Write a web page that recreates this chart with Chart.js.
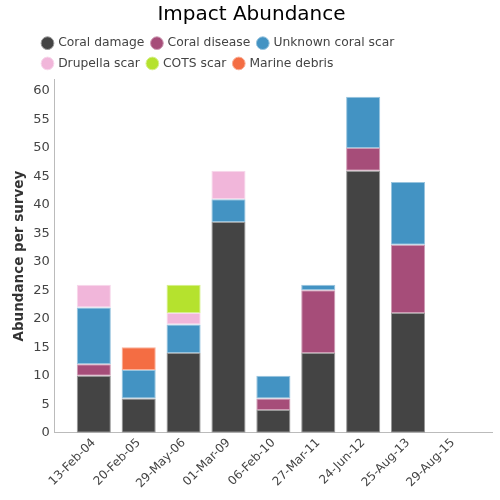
<!DOCTYPE html>
<html>
<head>
<meta charset="utf-8">
<script src="https://cdn.jsdelivr.net/npm/chart.js@4/dist/chart.umd.min.js"></script>
<style>
	html, body { margin: 0; padding: 0; background: #fff; }
	#wrap { width: 500px; height: 500px; }
</style>
</head>
<body>
<div id="wrap"><canvas id="impactChart"></canvas></div>
<script>
const surveyDates = ['13-Feb-04', '20-Feb-05', '29-May-06', '01-Mar-09', '06-Feb-10', '27-Mar-11', '24-Jun-12', '25-Aug-13', '29-Aug-15'];
const coralDamage = [10, 6, 14, 37, 4, 14, 46, 21, null];
const coralDisease = [2, null, null, null, 2, 11, 4, 12, null];
const unknownScar = [10, 5, 5, 4, 4, 1, 9, 11, null];
const drupellaScar = [4, null, 2, 5, null, null, null, null, null];
const cotsScar = [null, null, 5, null, null, null, null, null, null];
const marineDebris = [null, 4, null, null, null, null, null, null, null];
const yTicks = [0, 5, 10, 15, 20, 25, 30, 35, 40, 45, 50, 55, 60];

const toPoints = (values) => values.map((v, i) => ({ x: i, y: v }));

// edge of each bar is its own colour washed halfway to white
function lighten(hex, amt) {
	const n = parseInt(hex.slice(1), 16);
	const ch = [(n >> 16) & 255, (n >> 8) & 255, n & 255].map(c => Math.round(c + (255 - c) * amt));
	return 'rgb(' + ch.join(',') + ')';
}

const makeSet = (label, values, color) => ({
	label: label,
	data: toPoints(values),
	backgroundColor: color,
	borderColor: lighten(color, 0.45),
	borderWidth: 1,
	borderSkipped: false,
	categoryPercentage: 1,
	barPercentage: 0.76
});

// legend rows start from the same left edge, not centred one by one
const legendShift = {
	id: 'legendShift',
	afterLayout(chart) {
		chart.legend.left = 35;
	}
};

const ctx = document.getElementById('impactChart');
new Chart(ctx, {
	type: 'bar',
	data: {
		datasets: [
			makeSet('Coral damage', coralDamage, '#444444'),
			makeSet('Coral disease', coralDisease, '#a64d79'),
			makeSet('Unknown coral scar', unknownScar, '#4393c3'),
			makeSet('Drupella scar', drupellaScar, '#f1b6da'),
			makeSet('COTS scar', cotsScar, '#b5e22e'),
			makeSet('Marine debris', marineDebris, '#f46d43')
		]
	},
	plugins: [legendShift],
	options: {
		responsive: true,
		maintainAspectRatio: false,
		animation: false,
		layout: { padding: { left: 11, right: 8, top: 3, bottom: 6 } },
		plugins: {
			title: {
				display: true,
				text: 'Impact Abundance',
				color: '#000',
				font: { family: 'DejaVu Sans', size: 20, weight: 'normal' },
				padding: { top: 0, bottom: 2 }
			},
			legend: {
				position: 'top',
				align: 'start',
				fullSize: false,
				labels: {
					usePointStyle: true,
					pointStyle: 'circle',
					boxWidth: 9,
					boxHeight: 9,
					padding: 8,
					color: '#444',
					font: { family: 'DejaVu Sans', size: 12.3 }
				}
			},
			tooltip: { enabled: false }
		},
		scales: {
			x: {
				type: 'linear',
				stacked: true,
				offset: false,
				min: -0.87,
				max: 8.87,
				afterBuildTicks: (scale) => {
					scale.ticks = surveyDates.map((d, i) => ({ value: i }));
				},
				ticks: {
					minRotation: 45,
					maxRotation: 45,
					autoSkip: false,
					color: '#444',
					font: { family: 'DejaVu Sans', size: 12 },
					callback: (value) => surveyDates[value]
				},
				grid: { display: false, drawTicks: false },
				border: { display: true, color: '#bbbbbb' }
			},
			y: {
				stacked: true,
				min: 0,
				max: 62,
				afterBuildTicks: (scale) => {
					scale.ticks = yTicks.map(v => ({ value: v }));
				},
				ticks: {
					color: '#444',
					padding: 5,
					font: { family: 'DejaVu Sans', size: 13 }
				},
				grid: { display: false, drawTicks: false },
				border: { display: true, color: '#bbbbbb' },
				title: {
					display: true,
					text: 'Abundance per survey',
					color: '#333',
					font: { family: 'DejaVu Sans', size: 13.5, weight: 'bold' },
					padding: { top: 0, bottom: 1 }
				}
			}
		}
	}
});
</script>
</body>
</html>
